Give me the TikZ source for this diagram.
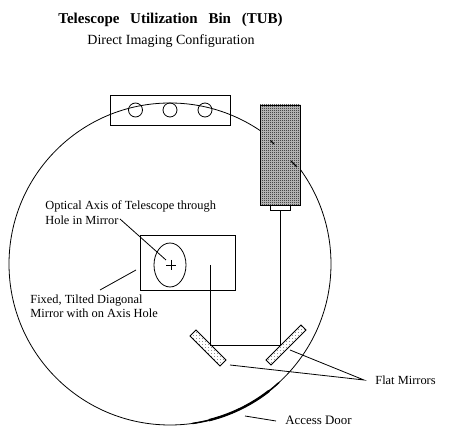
\documentclass[tikz,border=0pt]{standalone}
\usepackage{fontspec}
\setmainfont{Liberation Serif}
\usetikzlibrary{patterns}
\pgfdeclarepatternformonly{dither}{\pgfqpoint{0pt}{0pt}}{\pgfqpoint{2pt}{2pt}}{\pgfqpoint{2pt}{2pt}}{
  \pgfpathrectangle{\pgfqpoint{0pt}{0pt}}{\pgfqpoint{1pt}{1pt}}
  \pgfpathrectangle{\pgfqpoint{1pt}{1pt}}{\pgfqpoint{1pt}{1pt}}
  \pgfusepath{fill}}
\pgfdeclarepatternformonly{sparsedots}{\pgfqpoint{0pt}{0pt}}{\pgfqpoint{2.5pt}{2.5pt}}{\pgfqpoint{2.5pt}{2.5pt}}{
  \pgfpathrectangle{\pgfqpoint{0pt}{0pt}}{\pgfqpoint{0.7pt}{0.7pt}}
  \pgfusepath{fill}}
\tikzset{
  thin line/.style={line width=0.8pt,black},
  label text/.style={anchor=base west,inner sep=0pt,font=\fontsize{12.4}{13}\selectfont},
  door text/.style={anchor=base west,inner sep=0pt,font=\fontsize{12.9}{13}\selectfont},
  title text/.style={anchor=base west,inner sep=0pt,font=\fontsize{15}{16}\selectfont\bfseries},
  sub text/.style={anchor=base west,inner sep=0pt,font=\fontsize{14}{15}\selectfont},
  mirror/.style={thin line,pattern=sparsedots,pattern color=black},
}
\begin{document}
\begin{tikzpicture}[x=1pt,y=-1pt,thin line]
\useasboundingbox (0,0) rectangle (451,441);
\fill[white] (0,0) rectangle (451,441);
% bin
\node (bin) at (170,264) [circle,draw,line width=0.8pt,minimum size=322pt,inner sep=0pt] {};
\draw[line width=1.5pt] plot[domain=47.5:82,samples=30] ({170+161*cos(\x)},{264+161*sin(\x)});
\draw[line width=2.4pt] plot[domain=52:76,samples=30] ({170+161*cos(\x)},{264+161*sin(\x)});
% top plate
\draw (110,95) rectangle (230,125);
\foreach \cx in {135.5,170,205} \draw (\cx,110) circle (7);
% camera
\fill[black!20] (260,105) rectangle (300,205);
\draw[pattern=dither,pattern color=black] (260,105) rectangle (300,205);
\draw[line width=1.1pt] (270.5,140.5) -- (274,144) (291,161) -- (297,167);
\draw (270,205) rectangle (290,210);
% diagonal mirror
\draw (140,235) rectangle (235,290);
\draw (170,265) ellipse (16 and 22);
\draw (166,265) -- (176,265) (171,260) -- (171,270);
% beam
\coordinate (beamA) at (210,265);
\coordinate (beamB) at (210,345);
\coordinate (beamC) at (280,345);
\coordinate (beamD) at (280,210);
\draw (beamA) -- (beamB) -- (beamC) -- (beamD);
% flat mirrors
\draw[mirror] (190,336) -- (196,330) -- (226,360) -- (220,366) -- cycle;
\draw[mirror] (266,360) -- (301,325) -- (306,330) -- (271,365) -- cycle;
% labels
\node[title text] (title) at (58,24) {Telescope\hspace{7pt} Utilization\hspace{7pt} Bin\hspace{7pt} (TUB)};
\node[sub text] (sub) at (87,45) {Direct Imaging Configuration};
\node[label text] (axis1) at (45,210) {Optical Axis of Telescope through};
\node[label text] (axis2) at (45,225) {Hole in Mirror};
\node[label text] (fix1) at (30,304) {Fixed, Tilted Diagonal};
\node[label text] (fix2) at (30,318) {Mirror with on Axis Hole};
\node[label text] (flat) at (375,385) {Flat Mirrors};
\node[door text] (door) at (285,425) {Access Door};
% leaders
\coordinate (a1) at (120,219); \coordinate (a2) at (166,260);
\coordinate (f1) at (136,270); \coordinate (f2) at (100,290);
\coordinate (m0) at (364,380); \coordinate (m1) at (290,350); \coordinate (m2) at (230,365);
\coordinate (d1) at (245,416); \coordinate (d2) at (276,421);
\draw (a1) -- (a2);
\draw (f1) -- (f2);
\draw (m1) -- (m0) -- (m2);
\draw (d1) -- (d2);
\end{tikzpicture}
\end{document}
